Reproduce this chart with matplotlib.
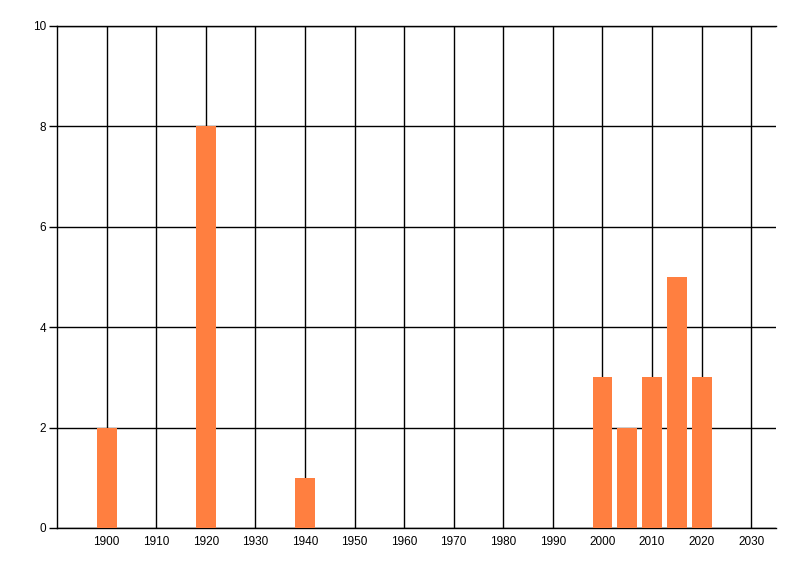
import numpy as np
import matplotlib
matplotlib.use('Agg')
from matplotlib import pyplot

years = [1900, 1920, 1940, 2000, 2005, 2010, 2015, 2020]
counts = [2, 8, 1, 3, 2, 3, 5, 3]
x_ticks = list(range(1900, 2031, 10))
y_ticks = [0, 2, 4, 6, 8, 10]

pyplot.rcParams['font.family'] = ['Liberation Sans', 'DejaVu Sans']

fig = pyplot.figure(figsize=(8, 5.76), dpi=100)
ax = fig.add_axes([57 / 800, 48 / 576, 719 / 800, 502 / 576])

ax.bar(years, counts, width=4, color='#FF7F40', zorder=3)

ax.set_xlim(1890, 2035)
ax.set_ylim(0, 10)
ax.set_xticks(x_ticks)
ax.set_yticks(y_ticks)
ax.grid(True, color='black', linewidth=1.0, zorder=1)
ax.set_axisbelow(True)

ax.spines['right'].set_visible(False)
for side in ('left', 'top', 'bottom'):
    ax.spines[side].set_linewidth(1.0)
    ax.spines[side].set_color('black')

ax.tick_params(axis='y', length=6, width=1.0, labelsize=8.5, pad=2)
ax.tick_params(axis='x', length=0, labelsize=8.5, pad=6)

fig.savefig('out.png', dpi=100)
